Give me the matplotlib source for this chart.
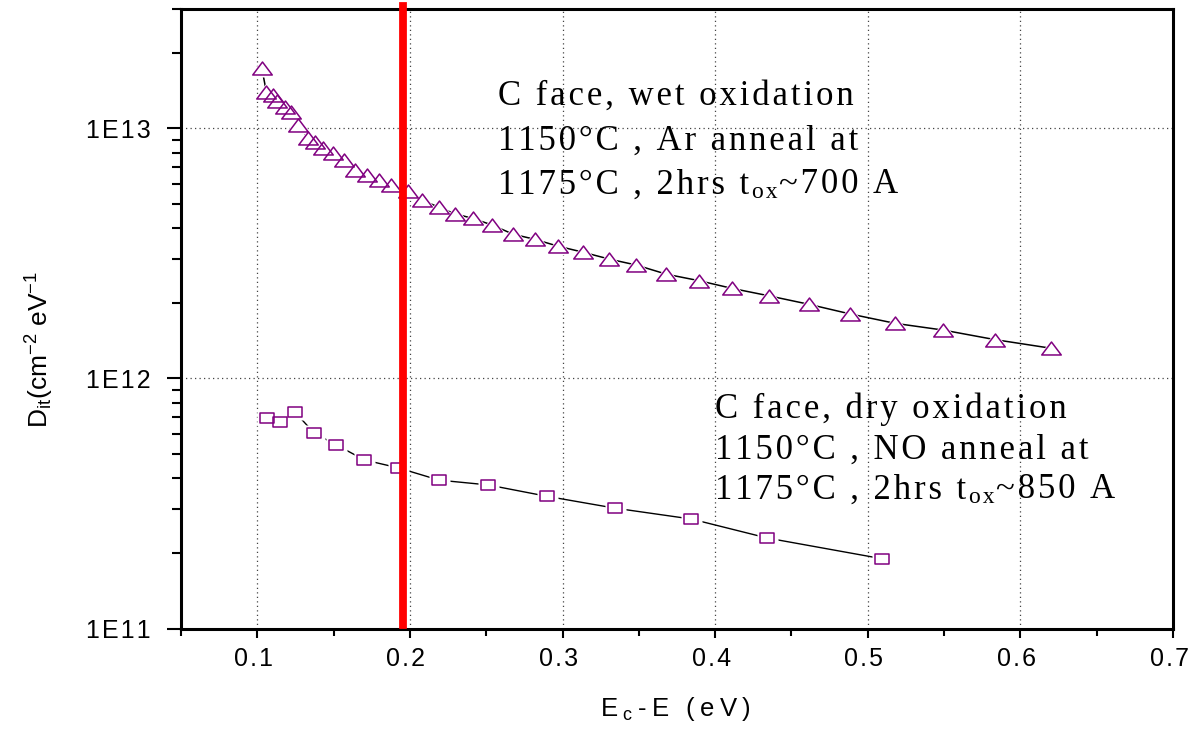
import matplotlib
matplotlib.use("Agg")
import matplotlib.pyplot as plt
import matplotlib.transforms as mtransforms
from matplotlib.path import Path

plt.rcParams['mathtext.default'] = 'regular'

# ---------------- data ----------------
wet_x = [0.1029, 0.1059, 0.1103, 0.1131, 0.1180, 0.1221, 0.1267, 0.1330, 0.1376,
         0.1433, 0.1496, 0.1567, 0.1643, 0.1717, 0.1798, 0.1877, 0.1988, 0.2080,
         0.2188, 0.2296, 0.2414, 0.2541, 0.2677, 0.2818, 0.2969, 0.3131, 0.3306,
         0.3483, 0.3681, 0.3893, 0.4112, 0.4351, 0.4612, 0.4885, 0.5180, 0.5496,
         0.5831, 0.6201]
wet_y = [1.75e13, 1.40e13, 1.355e13, 1.29e13, 1.22e13, 1.16e13, 1.03e13, 9.18e12,
         8.82e12, 8.37e12, 7.97e12, 7.45e12, 6.84e12, 6.49e12, 6.20e12, 5.92e12,
         5.63e12, 5.16e12, 4.84e12, 4.55e12, 4.36e12, 4.10e12, 3.77e12, 3.60e12,
         3.38e12, 3.20e12, 3.00e12, 2.84e12, 2.61e12, 2.46e12, 2.29e12, 2.14e12,
         1.98e12, 1.81e12, 1.66e12, 1.56e12, 1.43e12, 1.32e12]

dry_x = [0.1066, 0.1149, 0.1249, 0.1372, 0.1518, 0.1702, 0.1923, 0.2191, 0.2513,
         0.2895, 0.3341, 0.3844, 0.4342, 0.5096]
dry_y = [6.92e11, 6.71e11, 7.31e11, 6.05e11, 5.42e11, 4.72e11, 4.39e11, 3.92e11,
         3.75e11, 3.38e11, 3.03e11, 2.74e11, 2.30e11, 1.90e11]

x_ticks = [0.1, 0.2, 0.3, 0.4, 0.5, 0.6, 0.7]
x_tick_labels = ["0.1", "0.2", "0.3", "0.4", "0.5", "0.6", "0.7"]
y_ticks = [1e11, 1e12, 1e13]
y_tick_labels = ["1E11", "1E12", "1E13"]
red_line_x = 0.1952

wet_label = ["C face, wet oxidation", "1150°C , Ar anneal at",
             "1175°C , 2hrs t", "ox", "~700 A"]
dry_label = ["C face, dry oxidation", "1150°C , NO anneal at",
             "1175°C , 2hrs t", "ox", "~850 A"]

HAIR = '\u200a'
THIN = '\u2009'


def sp(s, gap=HAIR):
    return gap.join(s)


PURPLE = '#800080'
SANS = ['Liberation Sans', 'DejaVu Sans']
SERIF = ['Liberation Serif', 'DejaVu Serif']

# ---------------- figure ----------------
W, H = 1191, 729
fig = plt.figure(figsize=(W / 100, H / 100), dpi=100)
ax = fig.add_axes([181 / W, 1 - 628.5 / H, (1173 - 181) / W, 619.5 / H])
ax.set_yscale('log')
ax.set_xlim(0.05, 0.7)
ax.set_ylim(1e11, 3e13)

tri = Path([(-1, -0.665), (1, -0.665), (0, 0.665), (0, 0)],
           [Path.MOVETO, Path.LINETO, Path.LINETO, Path.CLOSEPOLY])
sq = Path([(-1, -0.75), (1, -0.75), (1, 0.75), (-1, 0.75), (0, 0)],
          [Path.MOVETO, Path.LINETO, Path.LINETO, Path.LINETO, Path.CLOSEPOLY])

px = 72 / 100  # points per pixel

# connecting lines
ax.plot(wet_x, wet_y, color='black', lw=1.1, zorder=3)
ax.plot(dry_x, dry_y, color='black', lw=1.0, zorder=3)
# white halos -> small gaps between line and markers
ax.plot(wet_x, wet_y, ls='none', marker=tri, ms=27 * px, mfc='white', mec='none', zorder=4)
ax.plot(dry_x, dry_y, ls='none', marker=sq, ms=21 * px, mfc='white', mec='none', zorder=4)
# markers
ax.plot(wet_x, wet_y, ls='none', marker=tri, ms=19.5 * px, mfc='none', mec=PURPLE,
        mew=1.1, zorder=5)
ax.plot(dry_x, dry_y, ls='none', marker=sq, ms=14 * px, mfc='none', mec=PURPLE,
        mew=1.1, zorder=5)

# red vertical line
ax.axvline(red_line_x, ymin=0.006, ymax=1.005, color='#ff0000', lw=5.6,
           clip_on=False, zorder=6)

# dotted grid
for xv in x_ticks[:-1]:
    ax.axvline(xv, color='#444444', lw=0.9, ls=(0, (1, 2.6)), zorder=1)
for yv in y_ticks[1:]:
    ax.axhline(yv, color='#444444', lw=0.9, ls=(0, (1, 2.6)), zorder=1)

# ticks
TICK_FS = 18
ax.set_xticks(x_ticks)
ax.set_xticklabels([sp(t) for t in x_tick_labels], family=SANS, fontsize=TICK_FS)
ax.set_xticks([0.05 + 0.1 * i for i in range(7)], minor=True)
ax.set_yticks(y_ticks)
ax.set_yticklabels([sp(t) for t in y_tick_labels], family=SANS, fontsize=TICK_FS)
minors = []
for dec in (1e11, 1e12):
    minors += [dec * k for k in range(2, 10)]
minors += [2e13, 3e13]
ax.set_yticks(minors, minor=True)
ax.yaxis.set_minor_formatter(plt.NullFormatter())
ax.xaxis.set_minor_formatter(plt.NullFormatter())

ax.tick_params(axis='x', which='major', direction='out', length=6.5, width=1.5, pad=7)
ax.tick_params(axis='x', which='minor', direction='out', length=5, width=1.5)
ax.tick_params(axis='y', which='major', direction='out', length=10, width=1.5, pad=12)
ax.tick_params(axis='y', which='minor', direction='out', length=6.5, width=1.5)

shift = mtransforms.ScaledTranslation(-4 / 100, 0, fig.dpi_scale_trans)
for lab in ax.get_xticklabels():
    lab.set_transform(lab.get_transform() + shift)

for s in ax.spines.values():
    s.set_linewidth(2.2)

# axis labels
fig.text(675.5 / W, 1 - 716 / H,
         "E" + THIN + "$_{c}$" + THIN + sp("-E (eV)", THIN),
         family=SANS, fontsize=18.5, ha='center', va='baseline')
fig.text(40 / W, 1 - 349 / H, "D$_{it}$(cm$^{-2}$ eV$^{-1}$",
         family=SANS, fontsize=19, ha='center', va='center', rotation=90)


# annotation blocks
def block(x0, y_base, lines, dy, fs=25):
    fig.text(x0 / W, 1 - y_base / H, sp(lines[0]), family=SERIF, fontsize=fs,
             ha='left', va='baseline')
    fig.text(x0 / W, 1 - (y_base + dy) / H, sp(lines[1]), family=SERIF, fontsize=fs,
             ha='left', va='baseline')
    t_main = fig.text(x0 / W, 1 - (y_base + 2 * dy) / H, sp(lines[2]), family=SERIF,
                      fontsize=fs, ha='left', va='baseline')
    t_sub = ax.annotate(sp(lines[3]), xy=(1, 0), xycoords=t_main, xytext=(2, -1),
                        textcoords='offset points', family=SERIF, fontsize=fs * 0.68,
                        ha='left', va='bottom', annotation_clip=False)
    ax.annotate(sp(lines[4]), xy=(1, 0), xycoords=t_sub, xytext=(1, 1.5),
                textcoords='offset points', family=SERIF, fontsize=fs,
                ha='left', va='bottom', annotation_clip=False)


block(498, 105, wet_label, 44.5)
block(715, 418, dry_label, 40.5)

fig.savefig('out.png', dpi=100)
